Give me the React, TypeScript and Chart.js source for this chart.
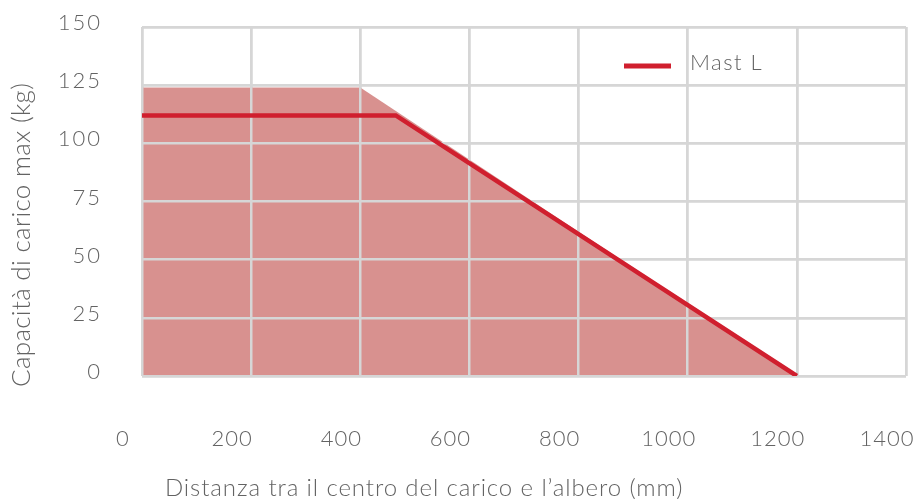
import React, { useEffect, useRef } from "react";
import { Chart, registerables } from "chart.js";

Chart.register(...registerables);

// ---- data ----
const X_MIN = 0;
const X_MAX = 1400;
const X_STEP = 200;
const Y_MIN = 0;
const Y_MAX = 150;
const Y_STEP = 25;

const SERIES_LABEL = "Mast L";
const LINE_X = [0, 465, 1200];
const LINE_Y = [112, 112, 0];
const AREA_X = [0, 400, 1200];
const AREA_Y = [124, 124, 0];

const X_TITLE = "Distanza tra il centro del carico e l’albero (mm)";
const Y_TITLE = "Capacità di carico max (kg)";

// ---- style ----
const FONT = "Lato";
const WEIGHT = "300";
const TEXT_COLOR = "#636363";
const GRID_COLOR = "#d6d6d6";
const LINE_COLOR = "#d01f2e";
const AREA_COLOR = "#d8918f";

const overlayPlugin = {
  id: "overlay",
  beforeDraw(chart: any) {
    (chart.ctx as any).letterSpacing = "2px";
  },
  afterDatasetDraw(chart: any, args: any) {
    if (args.index === 1) {
      const ctx = chart.ctx;
      ctx.save();
      chart.scales.x.drawGrid(chart.chartArea);
      chart.scales.y.drawGrid(chart.chartArea);
      ctx.restore();
    }
  },
  afterDatasetsDraw(chart: any) {
    (chart.ctx as any).letterSpacing = "1px";
  },
  afterDraw(chart: any) {
    const ctx = chart.ctx as any;
    const area = chart.chartArea;
    ctx.save();
    ctx.fillStyle = TEXT_COLOR;
    // x title
    ctx.font = `${WEIGHT} 24px ${FONT}`;
    ctx.letterSpacing = "0.9px";
    ctx.textAlign = "left";
    ctx.textBaseline = "middle";
    ctx.fillText(X_TITLE, 165, 488);
    // y title
    ctx.save();
    ctx.font = `${WEIGHT} 26px ${FONT}`;
    ctx.letterSpacing = "0.3px";
    ctx.translate(22, area.bottom + 11);
    ctx.rotate(-Math.PI / 2);
    ctx.textAlign = "left";
    ctx.textBaseline = "middle";
    ctx.fillText(Y_TITLE, 0, 0);
    ctx.restore();
    // legend
    const ds = chart.data.datasets[0];
    ctx.strokeStyle = ds.borderColor;
    ctx.lineWidth = 5;
    ctx.beginPath();
    ctx.moveTo(624, 66);
    ctx.lineTo(671, 66);
    ctx.stroke();
    ctx.font = `${WEIGHT} 22px ${FONT}`;
    ctx.letterSpacing = "1.5px";
    ctx.textAlign = "left";
    ctx.textBaseline = "middle";
    ctx.fillText(ds.label, 690, 63);
    ctx.restore();
    ctx.letterSpacing = "0px";
  },
};

export default function App() {
  const ref = useRef<HTMLCanvasElement | null>(null);
  useEffect(() => {
    if (!ref.current) return;
    const tickFont = { family: FONT, size: 22, weight: WEIGHT };
    const chart = new Chart(ref.current, {
      type: "scatter",
      data: {
        datasets: [
          {
            label: SERIES_LABEL,
            data: LINE_X.map((x, i) => ({ x, y: LINE_Y[i] })),
            showLine: true,
            borderColor: LINE_COLOR,
            borderWidth: 4.5,
            pointRadius: 0,
            fill: false,
            tension: 0,
            borderCapStyle: "butt",
          },
          {
            label: "area",
            data: AREA_X.map((x, i) => ({ x, y: AREA_Y[i] })),
            showLine: true,
            borderWidth: 0,
            borderColor: "rgba(0,0,0,0)",
            backgroundColor: AREA_COLOR,
            pointRadius: 0,
            fill: "origin",
            tension: 0,
          },
        ],
      },
      options: {
        animation: false,
        responsive: true,
        maintainAspectRatio: false,
        layout: { padding: { top: 27, right: 8, left: 0, bottom: 0 } },
        plugins: {
          legend: { display: false },
          tooltip: { enabled: false },
        },
        scales: {
          x: {
            type: "linear",
            min: X_MIN,
            max: X_MAX,
            ticks: {
              stepSize: X_STEP,
              padding: 50,
              labelOffset: -19,
              z: 1,
              color: TEXT_COLOR,
              font: tickFont,
              maxRotation: 0,
              callback: (v: any) => String(v),
            },
            grid: { color: GRID_COLOR, lineWidth: 2.5, drawTicks: false },
            border: { display: false },
            afterFit: (s: any) => {
              s.height = 123;
              s.paddingRight = 0;
              s.paddingLeft = 0;
            },
          },
          y: {
            type: "linear",
            min: Y_MIN,
            max: Y_MAX,
            ticks: {
              stepSize: Y_STEP,
              padding: 40,
              labelOffset: -4,
              color: TEXT_COLOR,
              font: tickFont,
              callback: (v: any) => String(v),
            },
            grid: { color: GRID_COLOR, lineWidth: 2.5, drawTicks: false },
            border: { display: false },
            afterFit: (s: any) => {
              s.width = 142;
              s.paddingTop = 0;
              s.paddingBottom = 0;
            },
          },
        },
      },
      plugins: [overlayPlugin],
    } as any);
    return () => chart.destroy();
  }, []);
  return (
    <div style={{ position: "fixed", left: 0, top: 0, width: 914, height: 499, background: "#fff" }}>
      <canvas ref={ref} />
    </div>
  );
}
